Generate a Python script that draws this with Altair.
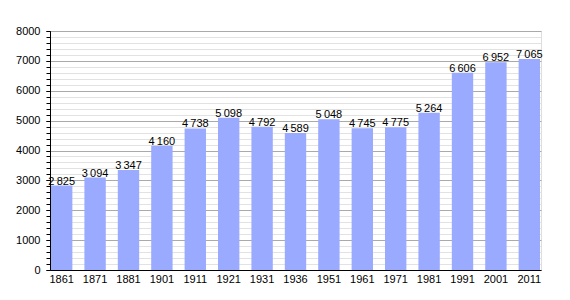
import altair as alt
import pandas as pd

years = ["1861", "1871", "1881", "1901", "1911", "1921", "1931", "1936", "1951",
         "1961", "1971", "1981", "1991", "2001", "2011"]
population = [2825, 3094, 3347, 4160, 4738, 5098, 4792, 4589, 5048,
              4745, 4775, 5264, 6606, 6952, 7065]
labels = [f"{v // 1000}\u2009{v % 1000:03d}" for v in population]

df = pd.DataFrame({"year": years, "pop": population, "label": labels})

minor_vals = list(range(0, 8001, 200))
major_vals = list(range(0, 8001, 1000))

x = alt.X("year:N", sort=years, title=None,
          scale=alt.Scale(paddingInner=0.36, paddingOuter=0.03),
          axis=alt.Axis(labelAngle=0, ticks=False, domainColor="black",
                        labelColor="black", labelFont="Liberation Sans",
                        labelFontSize=11, labelPadding=3))
yscale = alt.Scale(domain=[0, 8000], nice=False)

minor = alt.Chart(df).mark_bar(opacity=0).encode(
    x=x,
    y=alt.Y("pop:Q", scale=yscale, title=None,
            axis=alt.Axis(values=minor_vals, labels=False, grid=True,
                          gridColor="#e2e2e2", gridWidth=1, tickSize=4,
                          tickColor="black", domain=False, orient="left")),
)

bars = alt.Chart(df).mark_bar(color="#99aaff").encode(
    x=x,
    y=alt.Y("pop:Q", scale=yscale, title=None,
            axis=alt.Axis(values=major_vals, grid=True, gridColor="#aaaaaa",
                          gridWidth=1, tickSize=4, tickColor="black",
                          domainColor="black", labelColor="black",
                          labelFont="Liberation Sans", labelFontSize=11,
                          labelPadding=6, format="d", orient="left")),
)

text = alt.Chart(df).mark_text(baseline="bottom", dy=1, fontSize=11,
                               font="Liberation Sans", color="black").encode(
    x=alt.X("year:N", sort=years),
    y=alt.Y("pop:Q", scale=yscale, axis=None),
    text="label:N",
)

chart = alt.layer(minor, bars, text).resolve_axis(y="independent").properties(
    width=491, height=239,
    padding={"left": 50, "top": 31, "right": 29, "bottom": 30},
    autosize=alt.AutoSizeParams(type="none"),
).configure_view(stroke=None).configure(background="white")

chart.save("out.html", embed_options={"renderer": "svg", "actions": False})
